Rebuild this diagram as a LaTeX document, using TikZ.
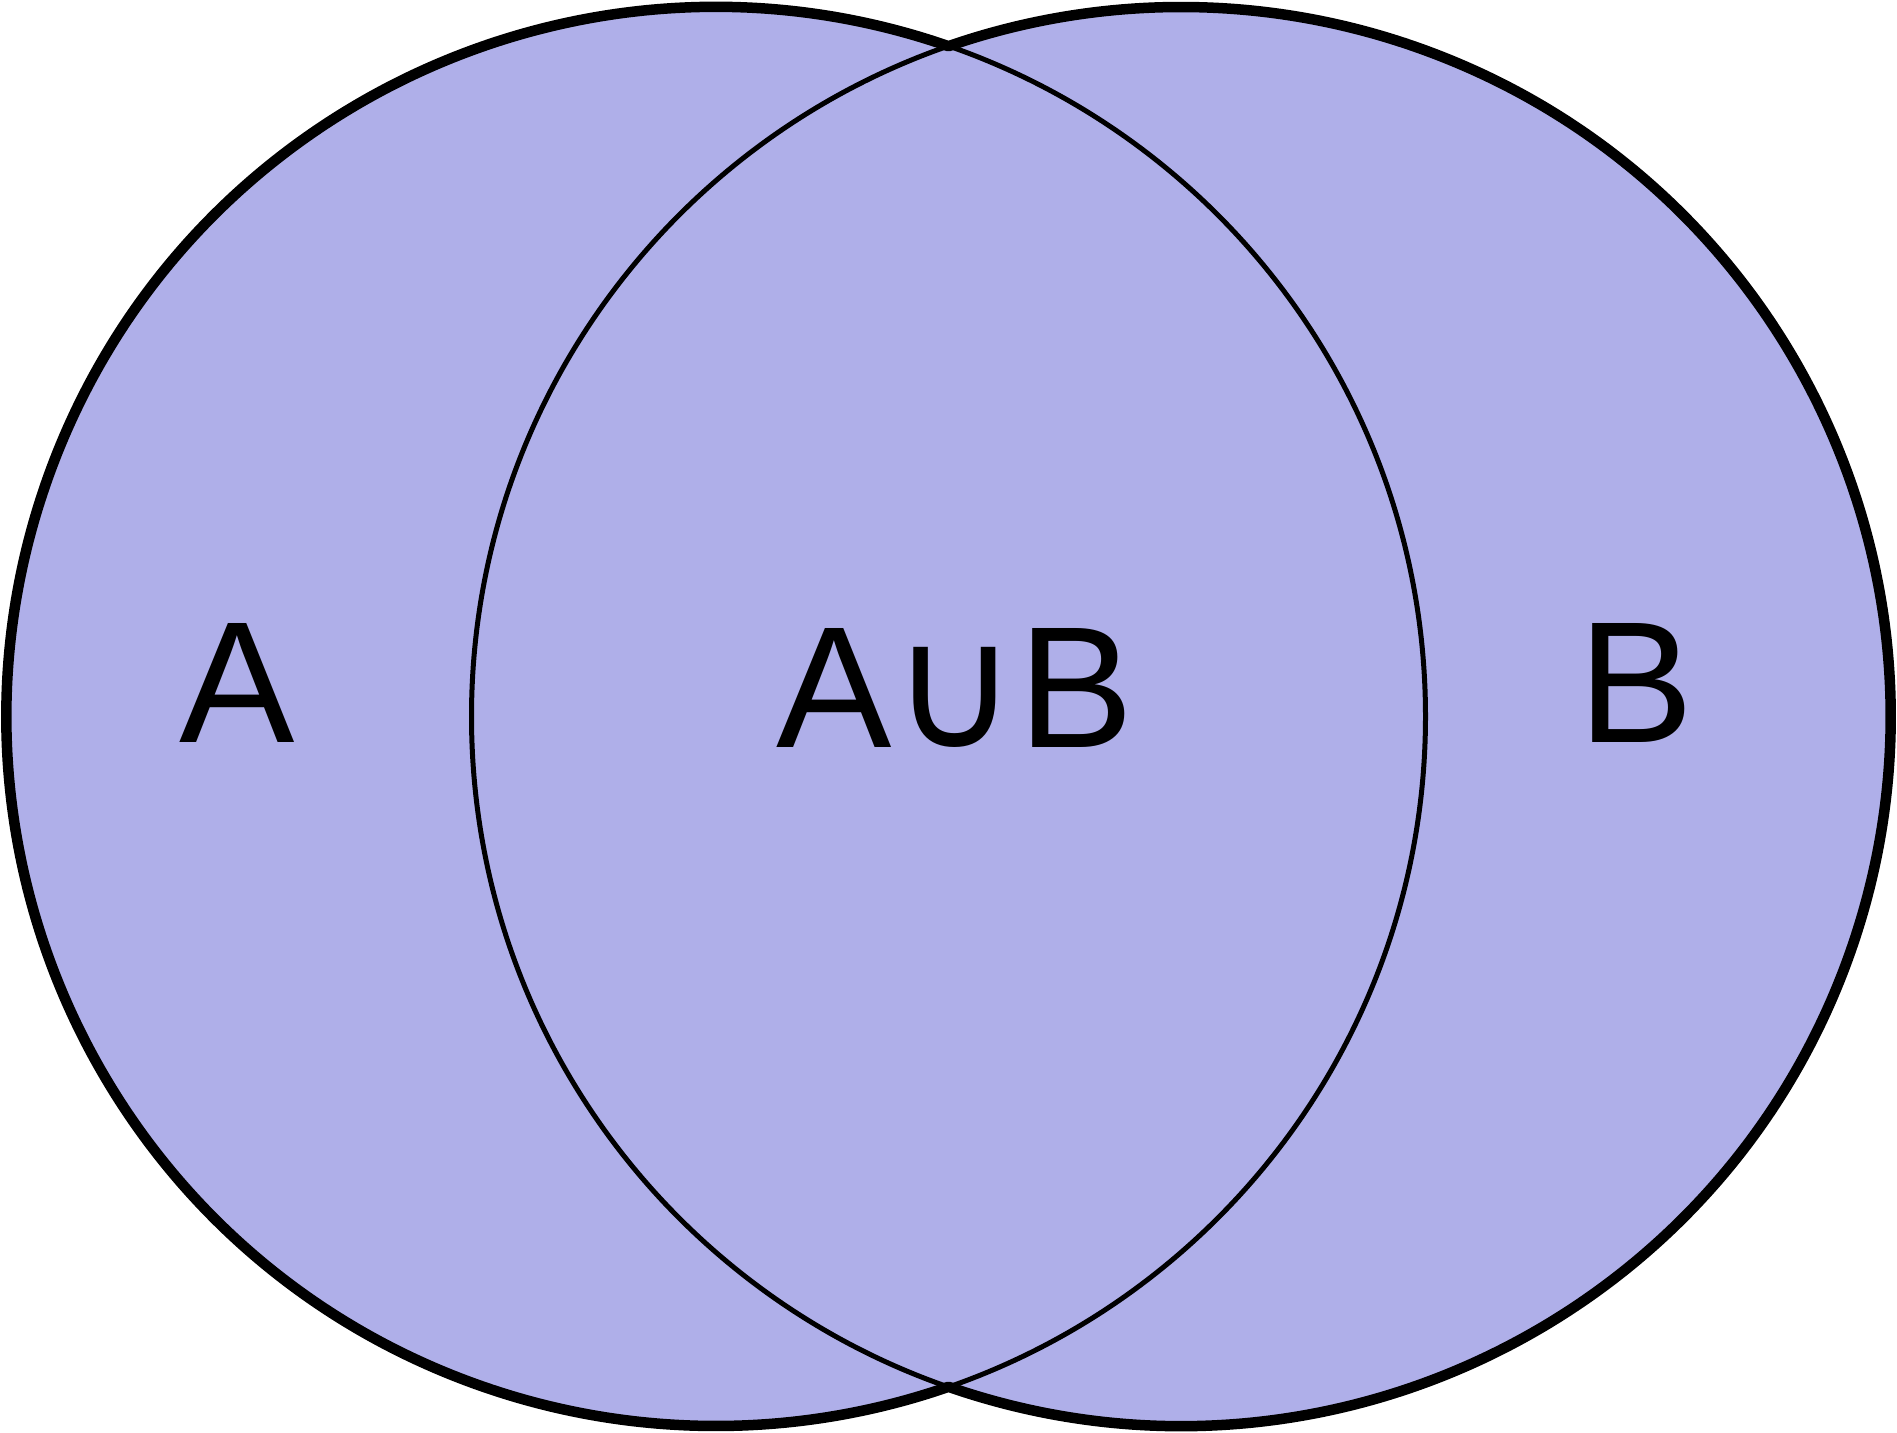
\documentclass[tikz,border=0pt]{standalone}
\usepackage{fontspec}
\setmainfont{Liberation Sans}
\newfontfamily\cupfont{DejaVu Sans}
\definecolor{setfill}{RGB}{175,175,233}

\tikzset{
  setdisk/.style={fill=setfill},
  setrim/.style={draw=black, line width=2.5pt},
  unionrim/.style={draw=black, line width=5.25pt, line join=round},
  setlabel/.style={anchor=base, inner sep=0pt, font=\fontsize{86.5pt}{100pt}\selectfont}
}

\begin{document}
\begin{tikzpicture}[x=0.5pt,y=0.5pt]
  \useasboundingbox (0,0) rectangle (1897,1432);

  % the two sets
  \coordinate (ca) at (716,715.5);
  \coordinate (cb) at (1181,715.5);
  \path[setdisk] (ca) circle[radius=709.5];
  \path[setdisk] (cb) circle[radius=709.5];
  \draw[setrim] (ca) circle[radius=709.5];
  \draw[setrim] (cb) circle[radius=709.5];

  % outline of the union
  \draw[unionrim] ([shift={(70.87:709.5)}]ca)
    arc[start angle=70.87, end angle=289.13, radius=709.5]
    arc[start angle=-109.13, end angle=109.13, radius=709.5] -- cycle;

  % labels
  \node[setlabel] (la)   at (237,689)    {A};
  \node[setlabel] (lab)  at (954.7,684.5) {A{\cupfont ∪}B};
  \node[setlabel] (lb)   at (1636.5,689) {B};
\end{tikzpicture}
\end{document}
